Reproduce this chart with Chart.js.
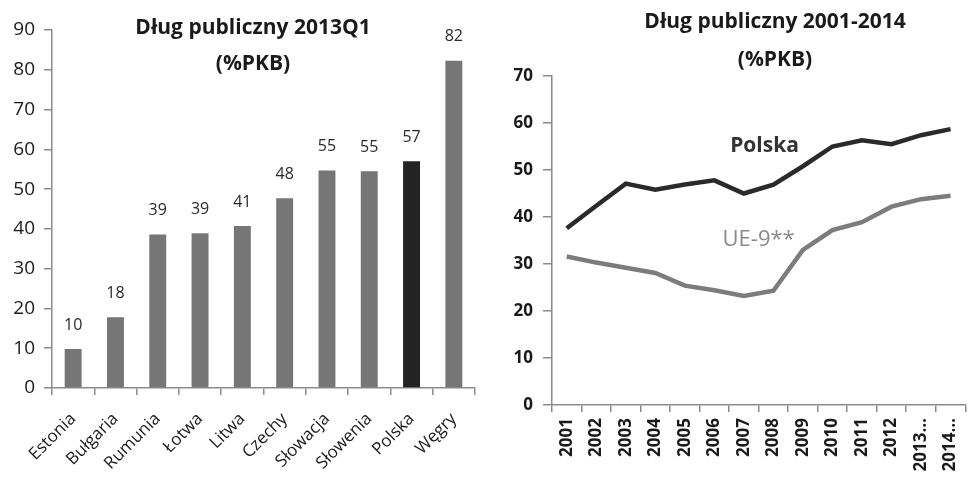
<!DOCTYPE html>
<html>
<head>
<meta charset="utf-8">
<script src="https://cdn.jsdelivr.net/npm/chart.js@4"></script>
<style>
html,body{margin:0;padding:0;background:#fff;width:977px;height:484px;overflow:hidden;}
#c1{position:absolute;left:0;top:0;}
#c2{position:absolute;left:485px;top:0;}
</style>
</head>
<body>
<canvas id="c1" width="485" height="484"></canvas>
<canvas id="c2" width="492" height="484"></canvas>
<script>
// ---- Data: left chart ----
const countries = ["Estonia","Bułgaria","Rumunia","Łotwa","Litwa","Czechy","Słowacja","Słowenia","Polska","Węgry"];
const debt2013Q1 = [9.8, 17.8, 38.6, 38.9, 40.7, 47.7, 54.7, 54.5, 57.0, 82.3];
const barLabels = ["10","18","39","39","41","48","55","55","57","82"];
const leftTitle = ["Dług publiczny 2013Q1","(%PKB)"];

// ---- Data: right chart ----
const years = ["2001","2002","2003","2004","2005","2006","2007","2008","2009","2010","2011","2012","2013…","2014…"];
const polska = [37.6, 42.4, 47.1, 45.8, 46.9, 47.8, 45.0, 46.9, 50.8, 55.0, 56.3, 55.5, 57.4, 58.7];
const ue9 = [31.6, 30.3, 29.2, 28.1, 25.4, 24.4, 23.2, 24.3, 33.0, 37.2, 38.9, 42.2, 43.8, 44.5];
const rightTitle = ["Dług publiczny 2001-2014","(%PKB)"];
const seriesNames = ["Polska","UE-9**"];

const FONT = "'Open Sans', Lato, sans-serif";
const AXIS = "#8c8c8c";

// left chart plugin: title + value labels
const leftPlugin = {
  id: 'leftText',
  afterDatasetsDraw(chart) {
    const ctx = chart.ctx;
    ctx.save();
    ctx.fillStyle = '#1a1a1a';
    ctx.font = "bold 21px " + FONT;
    ctx.textAlign = 'center';
    ctx.textBaseline = 'middle';
    ctx.fillText(leftTitle[0], 253, 28);
    ctx.fillText(leftTitle[1], 253, 64);
    const meta = chart.getDatasetMeta(0);
    ctx.font = "16px " + FONT;
    ctx.fillStyle = '#2a2a2a';
    meta.data.forEach((bar, i) => {
      ctx.fillText(barLabels[i], bar.x, bar.y - 24);
    });
    ctx.restore();
  }
};

new Chart(document.getElementById('c1'), {
  type: 'bar',
  data: {
    labels: countries,
    datasets: [{
      data: debt2013Q1,
      backgroundColor: countries.map(c => c === 'Polska' ? '#232323' : '#767676'),
      barPercentage: 0.4,
      categoryPercentage: 1.0
    }]
  },
  options: {
    responsive: false,
    animation: false,
    devicePixelRatio: 1,
    layout: { padding: { top: 30, right: 10, left: 0, bottom: 0 } },
    plugins: { legend: { display: false }, tooltip: { enabled: false }, title: { display: false } },
    scales: {
      x: {
        afterFit: s => { s.height = 96; },
        grid: { offset: true, drawOnChartArea: false, color: AXIS, tickLength: 7, lineWidth: 1.5 },
        border: { color: AXIS, width: 1.5 },
        ticks: { minRotation: 45, maxRotation: 45, color: '#1a1a1a', font: { family: FONT, size: 17 }, padding: 14 }
      },
      y: {
        min: 0, max: 90,
        afterFit: s => { s.width = 52; },
        grid: { drawOnChartArea: false, color: AXIS, tickLength: 8, lineWidth: 1.5 },
        border: { color: AXIS, width: 1.5 },
        ticks: { stepSize: 10, color: '#1a1a1a', font: { family: FONT, size: 19 }, padding: 9 }
      }
    }
  },
  plugins: [leftPlugin]
});

// right chart plugin: title + series annotations
const rightPlugin = {
  id: 'rightText',
  afterDatasetsDraw(chart) {
    const ctx = chart.ctx;
    const xs = chart.scales.x, ys = chart.scales.y;
    ctx.save();
    ctx.fillStyle = '#1a1a1a';
    ctx.font = "bold 21px " + FONT;
    ctx.textAlign = 'center';
    ctx.textBaseline = 'middle';
    ctx.fillText(rightTitle[0], 290, 22);
    ctx.fillText(rightTitle[1], 290, 60);
    ctx.font = "bold 21px " + FONT;
    ctx.fillStyle = '#333';
    ctx.fillText(seriesNames[0], xs.getPixelForValue(6.7), ys.getPixelForValue(55));
    ctx.font = "22px " + FONT;
    ctx.fillStyle = '#8a8a8a';
    ctx.fillText(seriesNames[1], xs.getPixelForValue(6.5), ys.getPixelForValue(35.1));
    ctx.restore();
  }
};

new Chart(document.getElementById('c2'), {
  type: 'line',
  data: {
    labels: years,
    datasets: [
      { label: seriesNames[0], data: polska, borderColor: '#2a2a2a', borderWidth: 4.5, pointRadius: 0, tension: 0, fill: false },
      { label: seriesNames[1], data: ue9, borderColor: '#7c7c7c', borderWidth: 4.5, pointRadius: 0, tension: 0, fill: false }
    ]
  },
  options: {
    responsive: false,
    animation: false,
    devicePixelRatio: 1,
    layout: { padding: { top: 76, right: 2, left: 0, bottom: 0 } },
    plugins: { legend: { display: false }, tooltip: { enabled: false }, title: { display: false } },
    scales: {
      x: {
        offset: true,
        afterFit: s => { s.height = 79; },
        grid: { offset: true, drawOnChartArea: false, color: AXIS, tickLength: 7, lineWidth: 1.5 },
        border: { color: AXIS, width: 1.5 },
        ticks: { minRotation: 90, maxRotation: 90, color: '#1a1a1a', font: { family: FONT, size: 17, weight: 'bold' }, padding: 6 }
      },
      y: {
        min: 0, max: 70,
        afterFit: s => { s.width = 67; },
        grid: { drawOnChartArea: false, color: AXIS, tickLength: 9, lineWidth: 1.5 },
        border: { color: AXIS, width: 1.5 },
        ticks: { stepSize: 10, color: '#1a1a1a', font: { family: FONT, size: 17, weight: 'bold' }, padding: 10 }
      }
    }
  },
  plugins: [rightPlugin]
});
</script>
</body>
</html>
